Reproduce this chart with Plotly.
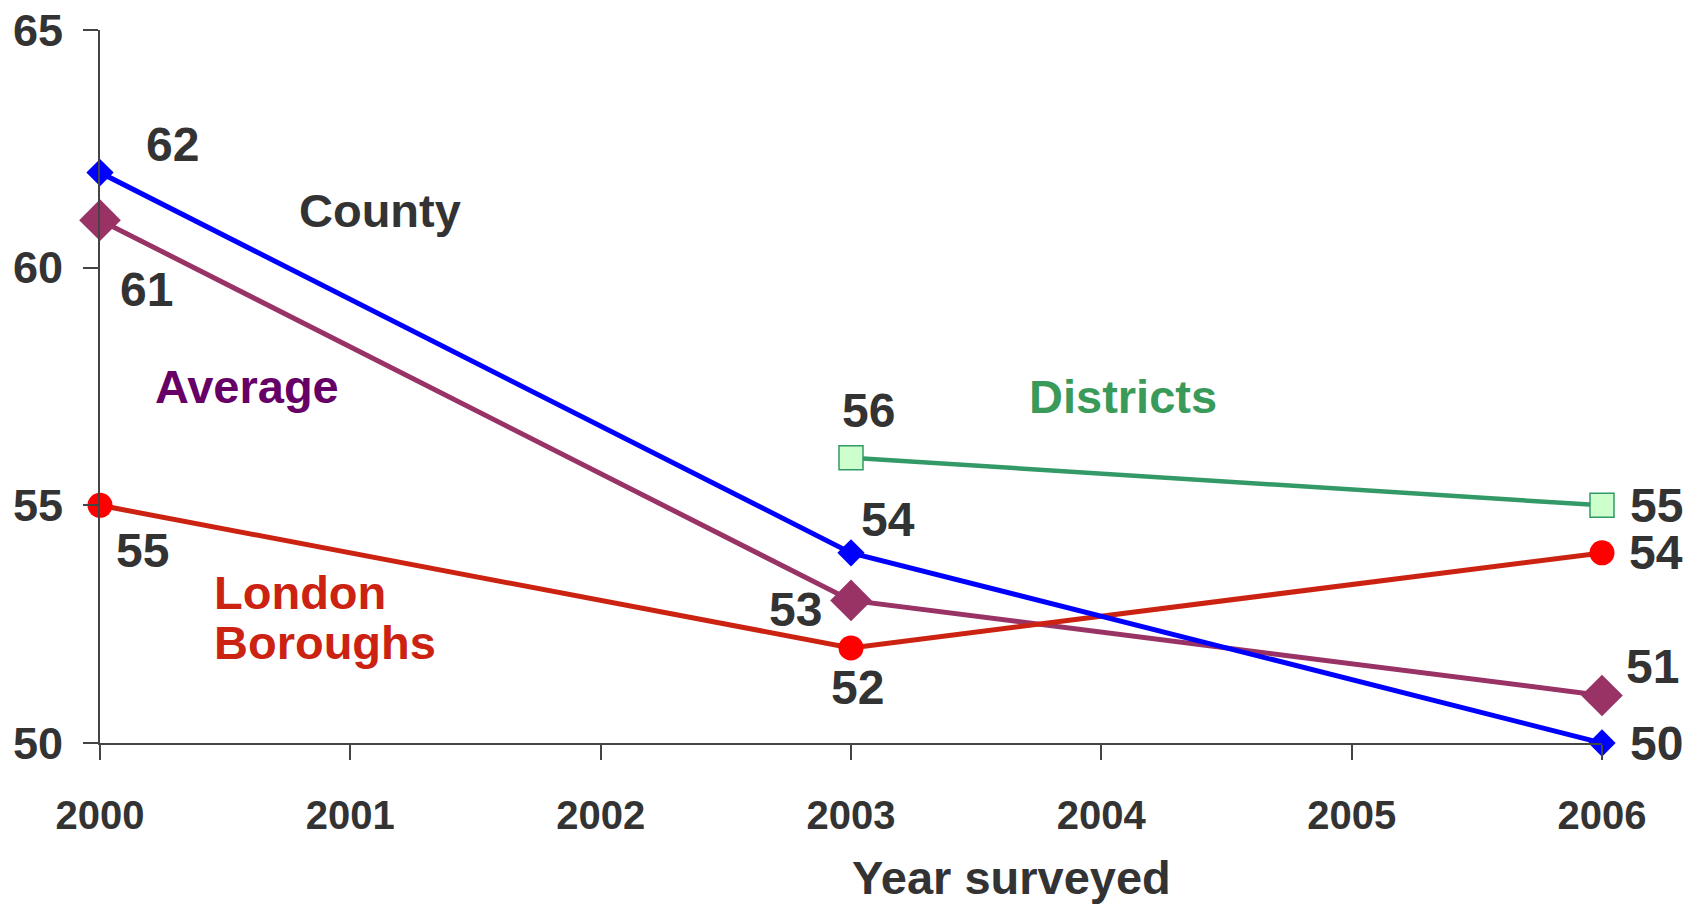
import plotly.graph_objects as go

years = [2000, 2003, 2006]
county = [62, 54, 50]
average = [61, 53, 51]
london = [55, 52, 54]
district_years = [2003, 2006]
districts = [56, 55]
x_ticks = [2000, 2001, 2002, 2003, 2004, 2005, 2006]
y_ticks = [50, 55, 60, 65]

TXT = "#333333"
LBL_FONT = "Liberation Sans, Arial, sans-serif"

fig = go.Figure()

fig.add_trace(go.Scatter(x=years, y=average, mode="lines+markers", cliponaxis=False,
                         line=dict(color="#993366", width=5),
                         marker=dict(symbol="diamond", size=32, color="#993366")))
fig.add_trace(go.Scatter(x=years, y=london, mode="lines+markers", cliponaxis=False,
                         line=dict(color="#CC2211", width=5),
                         marker=dict(symbol="circle", size=25, color="#FF0000")))
fig.add_trace(go.Scatter(x=district_years, y=districts, mode="lines+markers", cliponaxis=False,
                         line=dict(color="#339966", width=4.5),
                         marker=dict(symbol="square", size=24, color="#CCFFCC",
                                     line=dict(color="#339966", width=1.5))))
fig.add_trace(go.Scatter(x=years, y=county, mode="lines+markers", cliponaxis=False,
                         line=dict(color="#0000FF", width=5),
                         marker=dict(symbol="diamond", size=21, color="#0000FF")))

num_font = dict(family=LBL_FONT, size=48, color=TXT)

def add_labels(xs, ys, offsets):
    for xv, yv, (dx, dy) in zip(xs, ys, offsets):
        fig.add_annotation(x=xv, y=yv, xref="x", yref="y", text=f"<b>{yv}</b>",
                           showarrow=False, xshift=dx, yshift=dy, font=num_font)

add_labels(years, county, [(72, 28), (37, 33), (54, 0)])
add_labels(years, average, [(46, -69), (-56, -9), (50, 29)])
add_labels(years, london, [(42, -45), (6, -40), (54, 0)])
add_labels(district_years, districts, [(17, 47), (54, 0)])

lab_font = lambda c: dict(family=LBL_FONT, size=47, color=c)
fig.add_annotation(x=2001.12, y=61.21, text="<b>County</b>", showarrow=False, font=lab_font(TXT))
fig.add_annotation(x=2000.589, y=57.49, text="<b>Average</b>", showarrow=False, font=lab_font("#660066"))
fig.add_annotation(x=2000.447, y=53.16, text="<b>London</b>", showarrow=False, xanchor="left",
                   font=lab_font("#CC2211"))
fig.add_annotation(x=2000.447, y=52.11, text="<b>Boroughs</b>", showarrow=False, xanchor="left",
                   font=lab_font("#CC2211"))
fig.add_annotation(x=2004.087, y=57.30, text="<b>Districts</b>", showarrow=False, font=lab_font("#3A9A5A"))
fig.add_annotation(x=2003.64, y=-0.2286, xref="x", yref="paper", yanchor="bottom",
                   text="<b>Year surveyed</b>", showarrow=False, font=lab_font(TXT))

fig.update_layout(
    width=1683, height=898,
    margin=dict(l=92, r=89, t=22, b=163),
    plot_bgcolor="white", paper_bgcolor="white",
    showlegend=False,
)
fig.update_xaxes(range=[2000, 2006], tickvals=x_ticks, ticktext=[f"<b>{v}</b>" for v in x_ticks],
                 automargin=False, ticklabeloverflow="allow",
                 showgrid=False, zeroline=False, showline=True, linecolor="#444444", linewidth=2,
                 ticks="outside", ticklen=15, tickwidth=2, tickcolor="#444444",
                 ticklabelstandoff=21,
                 tickfont=dict(family=LBL_FONT, size=40, color=TXT))
fig.update_yaxes(range=[50, 65], tickvals=y_ticks, ticktext=[f"<b>{v}</b>" for v in y_ticks],
                 automargin=False, ticklabeloverflow="allow",
                 showgrid=False, zeroline=False, showline=True, linecolor="#444444", linewidth=2,
                 ticks="outside", ticklen=15, tickwidth=2, tickcolor="#444444",
                 ticklabelstandoff=11,
                 tickfont=dict(family=LBL_FONT, size=45, color=TXT))

fig.write_html("out.html")
